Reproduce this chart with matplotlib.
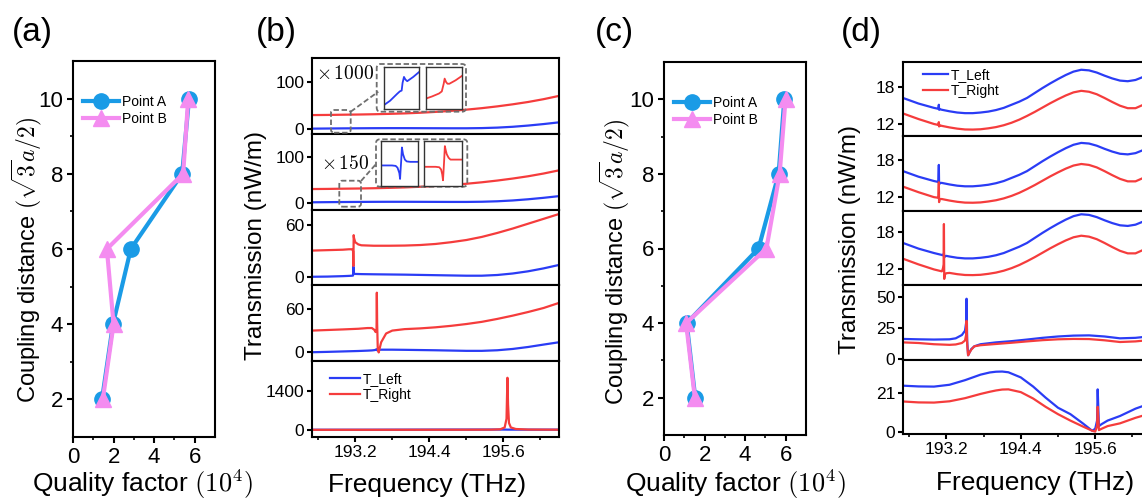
import numpy as np
import matplotlib.pyplot as plt
from matplotlib.patches import FancyBboxPatch
from matplotlib.lines import Line2D

plt.rcParams['font.family'] = ['Liberation Sans', 'DejaVu Sans']
plt.rcParams['mathtext.fontset'] = 'cm'
plt.rcParams['axes.linewidth'] = 1.5

# ---------- (a), (c): quality factor vs coupling distance ----------
dist = [2, 4, 6, 8, 10]
qa_A = [1.43, 1.97, 2.85, 5.38, 5.72]
qa_B = [1.47, 2.0, 1.67, 5.43, 5.68]
qc_A = [1.54, 1.12, 4.66, 5.65, 5.93]
qc_B = [1.52, 1.09, 5.05, 5.7, 5.99]

# ---------- (b): transmission spectra ----------
freq_ticks = [193.2, 194.4, 195.6]
freq_labels = ['193.2', '194.4', '195.6']

b12_freq = [192.5, 192.75, 193.0, 193.25, 193.5, 193.75, 194.0, 194.25, 194.5,
            194.75, 195.0, 195.25, 195.5, 195.75, 196.0, 196.25, 196.5]
b12_left = [1.0, 1.3, 1.6, 1.8, 2.0, 2.1, 2.1, 2.0, 1.9, 1.8, 1.8, 2.2, 3.2, 5.0,
            7.6, 10.8, 14.5]
b12_right = [30, 30.3, 30.8, 31.2, 31.8, 32.6, 33.6, 35, 36.8, 39, 41.6, 44.8,
             48.6, 53, 58, 64, 71]

b3_freq = [192.5, 192.75, 193.0, 193.1, 193.15, 193.165, 193.17, 193.175, 193.18,
           193.2, 193.25, 193.3, 193.5, 193.75, 194.0, 194.25, 194.5, 194.75,
           195.0, 195.25, 195.5, 195.75, 196.0, 196.25, 196.5]
b3_left = [0.8, 1.0, 1.5, 1.8, 2.0, 2.2, 12.5, 6, 4.5, 4, 3.9, 3.8, 3.6, 3.4, 3.2,
           2.9, 2.6, 2.3, 2.0, 2.0, 2.8, 4.5, 7, 10.3, 14.2]
b3_right = [30.5, 31, 31.5, 32, 32, 30, 13, 48, 45, 40, 37.5, 36.5, 36, 36, 36.2,
            36.8, 38, 40, 42.5, 46, 50.5, 55.5, 61, 66.5, 72]

b4_freq = [192.5, 192.75, 193.0, 193.25, 193.4, 193.47, 193.51, 193.53, 193.545,
           193.55, 193.555, 193.565, 193.58, 193.62, 193.7, 193.8, 194.0, 194.25,
           194.5, 194.75, 195.0, 195.25, 195.5, 195.75, 196.0, 196.25, 196.5]
b4_left = [0.3, 0.8, 1.4, 2.0, 2.5, 2.8, 3.2, 3.6, 4.5, 3.5, 3.0, 3.2, 3.6, 3.8,
           3.8, 3.8, 3.6, 3.3, 3.0, 2.6, 2.2, 2.2, 3.0, 4.8, 7.5, 10.8, 14]
b4_right = [30, 30.8, 31.6, 32.5, 33.5, 33.5, 31, 28, 30, 82, 40, 5, 0, 14, 26, 30,
            32, 33, 34.5, 36.5, 39, 42, 46, 50.5, 55.5, 61, 68]

b5_freq = [192.5, 193.0, 193.5, 194.0, 194.5, 195.0, 195.4, 195.55, 195.62,
           195.65, 195.665, 195.675, 195.69, 195.72, 195.8, 196.0, 196.5]
b5_left = [8, 9, 10, 12, 14, 15, 16, 15, 14, 13, 12, 12, 12, 12, 12, 12, 12]
b5_right = [5, 6, 6, 7, 8, 9, 12, 25, 90, 400, 1860, 900, 250, 90, 35, 15, 10]

# zoomed insets (x1000 and x150), normalised transmission
ins1_freq = [192.862, 192.875, 192.89, 192.896, 192.9, 192.902, 192.905,
             192.908, 192.912, 192.925, 192.938]
ins1_left = [0.1, 0.2, 0.36, 0.42, 0.44, 0.62, 0.76, 0.7, 0.66, 0.76, 0.88]
ins1_right = [0.25, 0.3, 0.37, 0.42, 0.6, 0.72, 0.64, 0.6, 0.6, 0.68, 0.78]

ins2_freq = [193.0, 193.03, 193.04, 193.045, 193.048, 193.05, 193.052, 193.053,
             193.055, 193.057, 193.06, 193.065, 193.07, 193.08, 193.1]
ins2_left = [0.45, 0.45, 0.44, 0.40, 0.33, 0.28, 0.15, 0.3, 0.55, 0.85, 0.7,
             0.58, 0.54, 0.53, 0.53]
ins2_right = [0.42, 0.42, 0.41, 0.36, 0.25, 0.12, 0.4, 0.55, 0.88, 0.8, 0.7,
              0.62, 0.58, 0.58, 0.58]

# ---------- (d): transmission spectra ----------
d_bg_freq = [192.5, 192.625, 192.75, 192.875, 193.0, 193.125, 193.25, 193.375,
             193.5, 193.625, 193.75, 193.875, 194.0, 194.125, 194.25, 194.375,
             194.5, 194.625, 194.75, 194.875, 195.0, 195.125, 195.25, 195.375,
             195.5, 195.625, 195.75, 195.875, 196.0, 196.125, 196.25, 196.375,
             196.5]
d_bg_left = [16.2, 15.75, 15.3, 14.95, 14.6, 14.3, 14.05, 13.85, 13.75, 13.75,
             13.85, 14.0, 14.25, 14.6, 15.1, 15.6, 16.2, 17.0, 17.8, 18.55, 19.25,
             19.9, 20.45, 20.75, 20.65, 20.3, 19.8, 19.35, 19.0, 18.9, 19.1, 19.6,
             20.3]
d_bg_right = [13.7, 13.25, 12.8, 12.4, 12.0, 11.7, 11.45, 11.25, 11.12, 11.1,
              11.15, 11.3, 11.5, 11.8, 12.2, 12.7, 13.3, 13.95, 14.65, 15.35,
              16.0, 16.6, 17.1, 17.35, 17.2, 16.8, 16.2, 15.55, 14.95, 14.55,
              14.55, 15.1, 15.8]

d1_res_freq = [193.07, 193.078, 193.082, 193.09]
d1_res_left = [14.45, 15.1, 14.3, 14.4]
d1_res_right = [11.85, 12.3, 11.6, 11.8]

d2_res_freq = [193.07, 193.078, 193.082, 193.09]
d2_res_left = [14.45, 17.2, 14.0, 14.3]
d2_res_right = [11.9, 14.4, 11.2, 11.7]

d3_res_freq = [193.13, 193.145, 193.155, 193.16, 193.165, 193.175, 193.2]
d3_res_left = [14.28, 14.25, 14.3, 14.6, 13.9, 14.1, 14.15]
d3_res_right = [11.75, 12.2, 12.8, 19.2, 10.5, 11.2, 11.4]

d4_freq = [192.5, 192.75, 193.0, 193.25, 193.35, 193.45, 193.5, 193.52, 193.525,
           193.535, 193.55, 193.57, 193.6, 193.65, 193.75, 194.0, 194.25, 194.5,
           194.75, 195.0, 195.25, 195.5, 195.75, 196.0, 196.25, 196.5]
d4_left = [16.3, 16.0, 15.8, 16.0, 16.8, 19.5, 23, 30, 49, 15, 3, 5, 8, 10.3, 12,
           13.5, 14.5, 15.8, 17.2, 18.3, 19.0, 19.2, 18.3, 16.8, 17.2, 18.5]
d4_right = [13.5, 13.0, 12.0, 11.5, 11.8, 13, 15, 20, 31, 12, 3, 5, 7.5, 10.3,
            11.2, 12.2, 13.2, 14.3, 15.3, 16.0, 16.3, 16.2, 15.2, 13.8, 14.3, 15.5]

d5_freq = [192.5, 192.75, 193.0, 193.25, 193.5, 193.75, 193.9, 194.0, 194.1,
           194.2, 194.4, 194.6, 194.8, 195.0, 195.2, 195.4, 195.55, 195.6, 195.63,
           195.64, 195.66, 195.7, 195.8, 196.0, 196.25, 196.5]
d5_left = [25, 24.6, 24.5, 25.5, 28, 31, 32.2, 32.6, 32.7, 32.3, 29.5, 24.5, 18.5,
           13, 9.5, 4.5, 0.5, 1.5, 6, 23, 3, 4, 6, 8.5, 12.5, 15.5]
d5_right = [16.4, 15.9, 15.8, 16.5, 18.2, 20.5, 21.7, 22.4, 22.9, 23.0, 21.5, 18,
            13.5, 9.5, 6, 2.8, 0.5, 0, 3, 13.5, 0.8, 1.5, 3, 4.5, 7.5, 10]

c_A = '#1a9be6'
c_B = '#f48cf0'
c_left = '#2a3cf5'
c_right = '#f53c3c'
c_dash = '#6e6e6e'

W, H = 1142, 500
fig = plt.figure(figsize=(W / 100, H / 100), dpi=100)


def rect(l, t, r, b):
    return [l / W, 1 - b / H, (r - l) / W, (b - t) / H]


def merge(f_bg, y_bg, f_res, y_res):
    f = np.concatenate([f_bg, f_res])
    y = np.concatenate([y_bg, y_res])
    order = np.argsort(f, kind='stable')
    return f[order], y[order]


def q_panel(box, qa, qb):
    ax = fig.add_axes(rect(*box))
    ax.plot(qa, dist, '-o', color=c_A, lw=3, ms=11, label='Point A')
    ax.plot(qb, dist, '-^', color=c_B, lw=3, ms=11, label='Point B')
    ax.set_xlim(0, 7)
    ax.set_ylim(1, 11)
    ax.set_xticks([0, 2, 4, 6])
    ax.set_yticks([2, 4, 6, 8, 10])
    ax.set_xticks([1, 3, 5], minor=True)
    ax.set_yticks([3, 5, 7, 9], minor=True)
    ax.tick_params(labelsize=16, width=1.5, length=4, pad=3)
    ax.tick_params(which='minor', length=2.5, width=1.2)
    ax.legend(loc='upper left', bbox_to_anchor=(0.03, 0.925), frameon=False,
              fontsize=10, handlelength=2.6, handletextpad=0.2,
              labelspacing=0.25, borderaxespad=0.0)
    return ax


def spectrum(box, f, tl, tr, ylim, yticks, bottom=False):
    ax = fig.add_axes(rect(*box))
    ax.plot(f, tl, color=c_left, lw=1.6, label='T_Left')
    ax.plot(f, tr, color=c_right, lw=1.6, label='T_Right')
    ax.set_xlim(192.5, 196.5)
    ax.set_ylim(*ylim)
    ax.set_yticks(yticks)
    ax.set_xticks(freq_ticks)
    ax.set_xticks([192.6, 193.8, 195.0, 196.2], minor=True)
    ax.set_xticklabels(freq_labels)
    ax.tick_params(labelsize=12.5, width=1.5, length=3.5, pad=2)
    ax.tick_params(which='minor', length=2, width=1.2)
    if not bottom:
        ax.tick_params(axis='x', which='both', bottom=False, labelbottom=False)
    return ax


def inset(box, f, y, color):
    ia = fig.add_axes(rect(*box), zorder=3)
    ia.plot(f, y, color=color, lw=1.3)
    ia.set_xlim(f[0], f[-1])
    ia.set_ylim(0, 1)
    ia.set_xticks([])
    ia.set_yticks([])
    for s in ia.spines.values():
        s.set_linewidth(1.0)
        s.set_color('#333333')


def dash_box(l, t, r, b, rs=4):
    p = FancyBboxPatch((l / 100, (H - b) / 100), (r - l) / 100, (b - t) / 100,
                       boxstyle=f'round,pad=0,rounding_size={rs / 100}',
                       transform=fig.dpi_scale_trans, fill=False, ec=c_dash,
                       ls=(0, (3, 1.5)), lw=1.3)
    fig.add_artist(p)


def dash_line(x0, y0, x1, y1):
    fig.add_artist(Line2D([x0 / 100, x1 / 100], [(H - y0) / 100, (H - y1) / 100],
                          transform=fig.dpi_scale_trans, color=c_dash,
                          ls=(0, (3, 1.5)), lw=1.3))


# (a)
q_panel((73, 61, 215, 437), qa_A, qa_B)

# (b)
bt = [58 + i * 75.8 for i in range(6)]
spectrum((312, bt[0], 559, bt[1]), b12_freq, b12_left, b12_right, (-10, 152), [0, 100])
spectrum((312, bt[1], 559, bt[2]), b12_freq, b12_left, b12_right, (-15, 151), [0, 100])
spectrum((312, bt[2], 559, bt[3]), b3_freq, b3_left, b3_right, (-9, 77), [0, 60])
spectrum((312, bt[3], 559, bt[4]), b4_freq, b4_left, b4_right, (-12, 92), [0, 60])
ax_b5 = spectrum((312, bt[4], 559, bt[5]), b5_freq, b5_left, b5_right,
                 (-250, 2450), [0, 1400], bottom=True)
ax_b5.legend(loc='upper left', bbox_to_anchor=(0.05, 0.93), frameon=False,
             fontsize=10, handlelength=2.2, handletextpad=0.2,
             labelspacing=0.15, borderaxespad=0.0)

inset((384, 66.7, 419.3, 109.3), ins1_freq, ins1_left, c_left)
inset((425.7, 66.7, 461.7, 109.3), ins1_freq, ins1_right, c_right)
inset((381, 140.7, 417.7, 185.7), ins2_freq, ins2_left, c_left)
inset((424.3, 140.7, 461.7, 185.7), ins2_freq, ins2_right, c_right)
dash_box(376.7, 64, 466, 111.7)
dash_box(376, 139.3, 467.3, 186.7)
dash_box(331, 110, 350.7, 132.7, rs=3)
dash_box(339.3, 180.7, 361, 206.7, rs=3)
dash_line(350.7, 111.7, 378.3, 91.7)
dash_line(361, 181, 376.7, 163.3)
fig.text(316 / W, 1 - 74 / H, r'$\times\,1000$', fontsize=14, va='center')
fig.text(321 / W, 1 - 164 / H, r'$\times\,150$', fontsize=14, va='center')

# (c)
q_panel((664, 62, 806, 435), qc_A, qc_B)

# (d)
dt = [62 + i * 74.4 for i in range(6)]
f1, l1 = merge(d_bg_freq, d_bg_left, d1_res_freq, d1_res_left)
_, r1 = merge(d_bg_freq, d_bg_right, d1_res_freq, d1_res_right)
f2, l2 = merge(d_bg_freq, d_bg_left, d2_res_freq, d2_res_left)
_, r2 = merge(d_bg_freq, d_bg_right, d2_res_freq, d2_res_right)
f3, l3 = merge(d_bg_freq, d_bg_left, d3_res_freq, d3_res_left)
_, r3 = merge(d_bg_freq, d_bg_right, d3_res_freq, d3_res_right)
ax_d1 = spectrum((903, dt[0], 1151, dt[1]), f1, l1, r1, (10, 22), [12, 18])
ax_d1.legend(loc='upper left', bbox_to_anchor=(0.06, 0.99), frameon=False,
             fontsize=10, handlelength=1.8, handletextpad=0.2,
             labelspacing=0.1, borderaxespad=0.0)
spectrum((903, dt[1], 1151, dt[2]), f2, l2, r2, (9.8, 21.8), [12, 18])
spectrum((903, dt[2], 1151, dt[3]), f3, l3, r3, (9.5, 21.3), [12, 18])
spectrum((903, dt[3], 1151, dt[4]), d4_freq, d4_left, d4_right, (-0.5, 60), [0, 25, 50])
spectrum((903, dt[4], 1151, dt[5]), d5_freq, d5_left, d5_right, (-1.3, 39.2), [0, 21],
         bottom=True)

# labels
for x, s in [(32, '(a)'), (276, '(b)'), (614, '(c)'), (861, '(d)')]:
    fig.text(x / W, 1 - 32 / H, s, fontsize=24, ha='center', va='center')

fig.text(143 / W, 1 - 492 / H, r'Quality factor $(10^4)$', fontsize=19,
         ha='center', va='baseline')
fig.text(736 / W, 1 - 492 / H, r'Quality factor $(10^4)$', fontsize=19,
         ha='center', va='baseline')
fig.text(427 / W, 1 - 492 / H, 'Frequency (THz)', fontsize=19, ha='center',
         va='baseline')
fig.text(1035 / W, 1 - 490 / H, 'Frequency (THz)', fontsize=19, ha='center',
         va='baseline')
fig.text(27 / W, 1 - 260 / H, r'Coupling distance $(\sqrt{3}a/2)$', fontsize=17,
         rotation=90, ha='center', va='center')
fig.text(615 / W, 1 - 262 / H, r'Coupling distance $(\sqrt{3}a/2)$', fontsize=17,
         rotation=90, ha='center', va='center')
fig.text(256 / W, 1 - 245 / H, 'Transmission (nW/m)', fontsize=17.5, rotation=90,
         ha='center', va='center')
fig.text(850 / W, 1 - 240 / H, 'Transmission (nW/m)', fontsize=17.5, rotation=90,
         ha='center', va='center')

fig.savefig('out.png', dpi=100)
